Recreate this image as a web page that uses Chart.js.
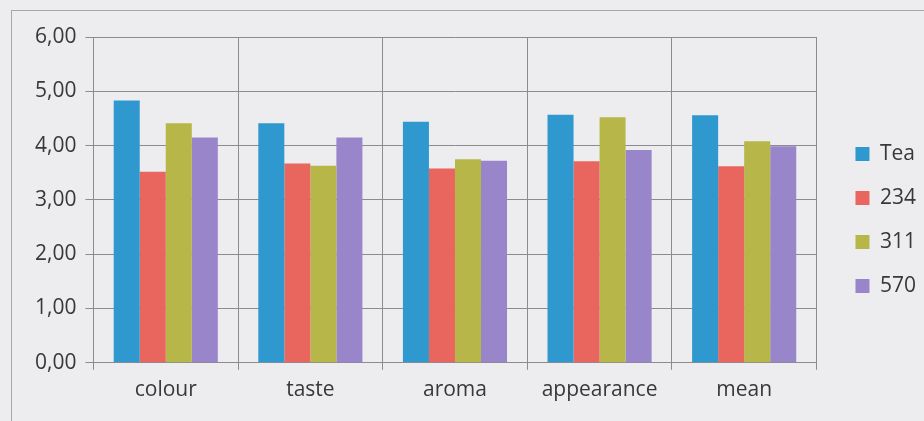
<!DOCTYPE html>
<html>
<head>
<meta charset="utf-8">
<script src="https://cdn.jsdelivr.net/npm/chart.js@4/dist/chart.umd.min.js"></script>
<style>
  html, body { margin: 0; padding: 0; background: #ededf0; }
  #wrap { position: relative; width: 924px; height: 421px; }
  #frame { position: absolute; left: 11px; top: 10px; right: 0; bottom: 0;
           border-top: 1px solid #a8a8ac; border-left: 1px solid #a8a8ac; }
  canvas { position: absolute; left: 0; top: 0; }
</style>
</head>
<body>
<div id="wrap">
  <div id="frame"></div>
  <canvas id="chart" width="924" height="421"></canvas>
</div>
<script>
const categories = ['colour', 'taste', 'aroma', 'appearance', 'mean'];
const seriesNames = ['Tea', '234', '311', '570'];
const teaValues = [4.83, 4.41, 4.44, 4.57, 4.56];
const s234Values = [3.52, 3.67, 3.58, 3.71, 3.62];
const s311Values = [4.41, 3.63, 3.75, 4.52, 4.08];
const s570Values = [4.15, 4.15, 3.72, 3.92, 3.99];
const yTicks = [0, 1, 2, 3, 4, 5, 6];

const colors = ['#2e98cf', '#e8665d', '#b6b649', '#9985c9'];
const allValues = [teaValues, s234Values, s311Values, s570Values];

const datasets = seriesNames.map((name, i) => ({
  label: name,
  data: allValues[i],
  backgroundColor: colors[i],
  barPercentage: 1.0,
  categoryPercentage: 0.72
}));

const font = { family: 'Open Sans', size: 21 };

// nudge the legend a bit away from the plot, like the original
const legendShift = {
  id: 'legendShift',
  afterLayout(chart) {
    const lg = chart.legend;
    lg.left += 16; lg.right += 16;
    lg.top -= 4; lg.bottom -= 4;
  }
};

new Chart(document.getElementById('chart'), {
  type: 'bar',
  data: { labels: categories, datasets: datasets },
  plugins: [legendShift],
  options: {
    responsive: false,
    animation: false,
    layout: { padding: { left: 26, top: 37, right: 14, bottom: 10 } },
    plugins: {
      tooltip: { enabled: false },
      legend: {
        position: 'right',
        labels: {
          color: '#383838',
          font: font,
          boxWidth: 14,
          boxHeight: 14,
          padding: 23
        }
      }
    },
    scales: {
      x: {
        grid: { color: '#8c8c90', tickLength: 7, offset: true },
        border: { color: '#8c8c90' },
        ticks: { color: '#383838', font: font, padding: 8 }
      },
      y: {
        min: 0, max: 6,
        afterBuildTicks: (axis) => { axis.ticks = yTicks.map(v => ({ value: v })); },
        grid: { color: '#8c8c90', tickLength: 8 },
        border: { color: '#8c8c90' },
        ticks: {
          color: '#383838', font: font, padding: 9,
          callback: (v) => v.toFixed(2).replace('.', ',')
        }
      }
    }
  }
});
</script>
</body>
</html>
